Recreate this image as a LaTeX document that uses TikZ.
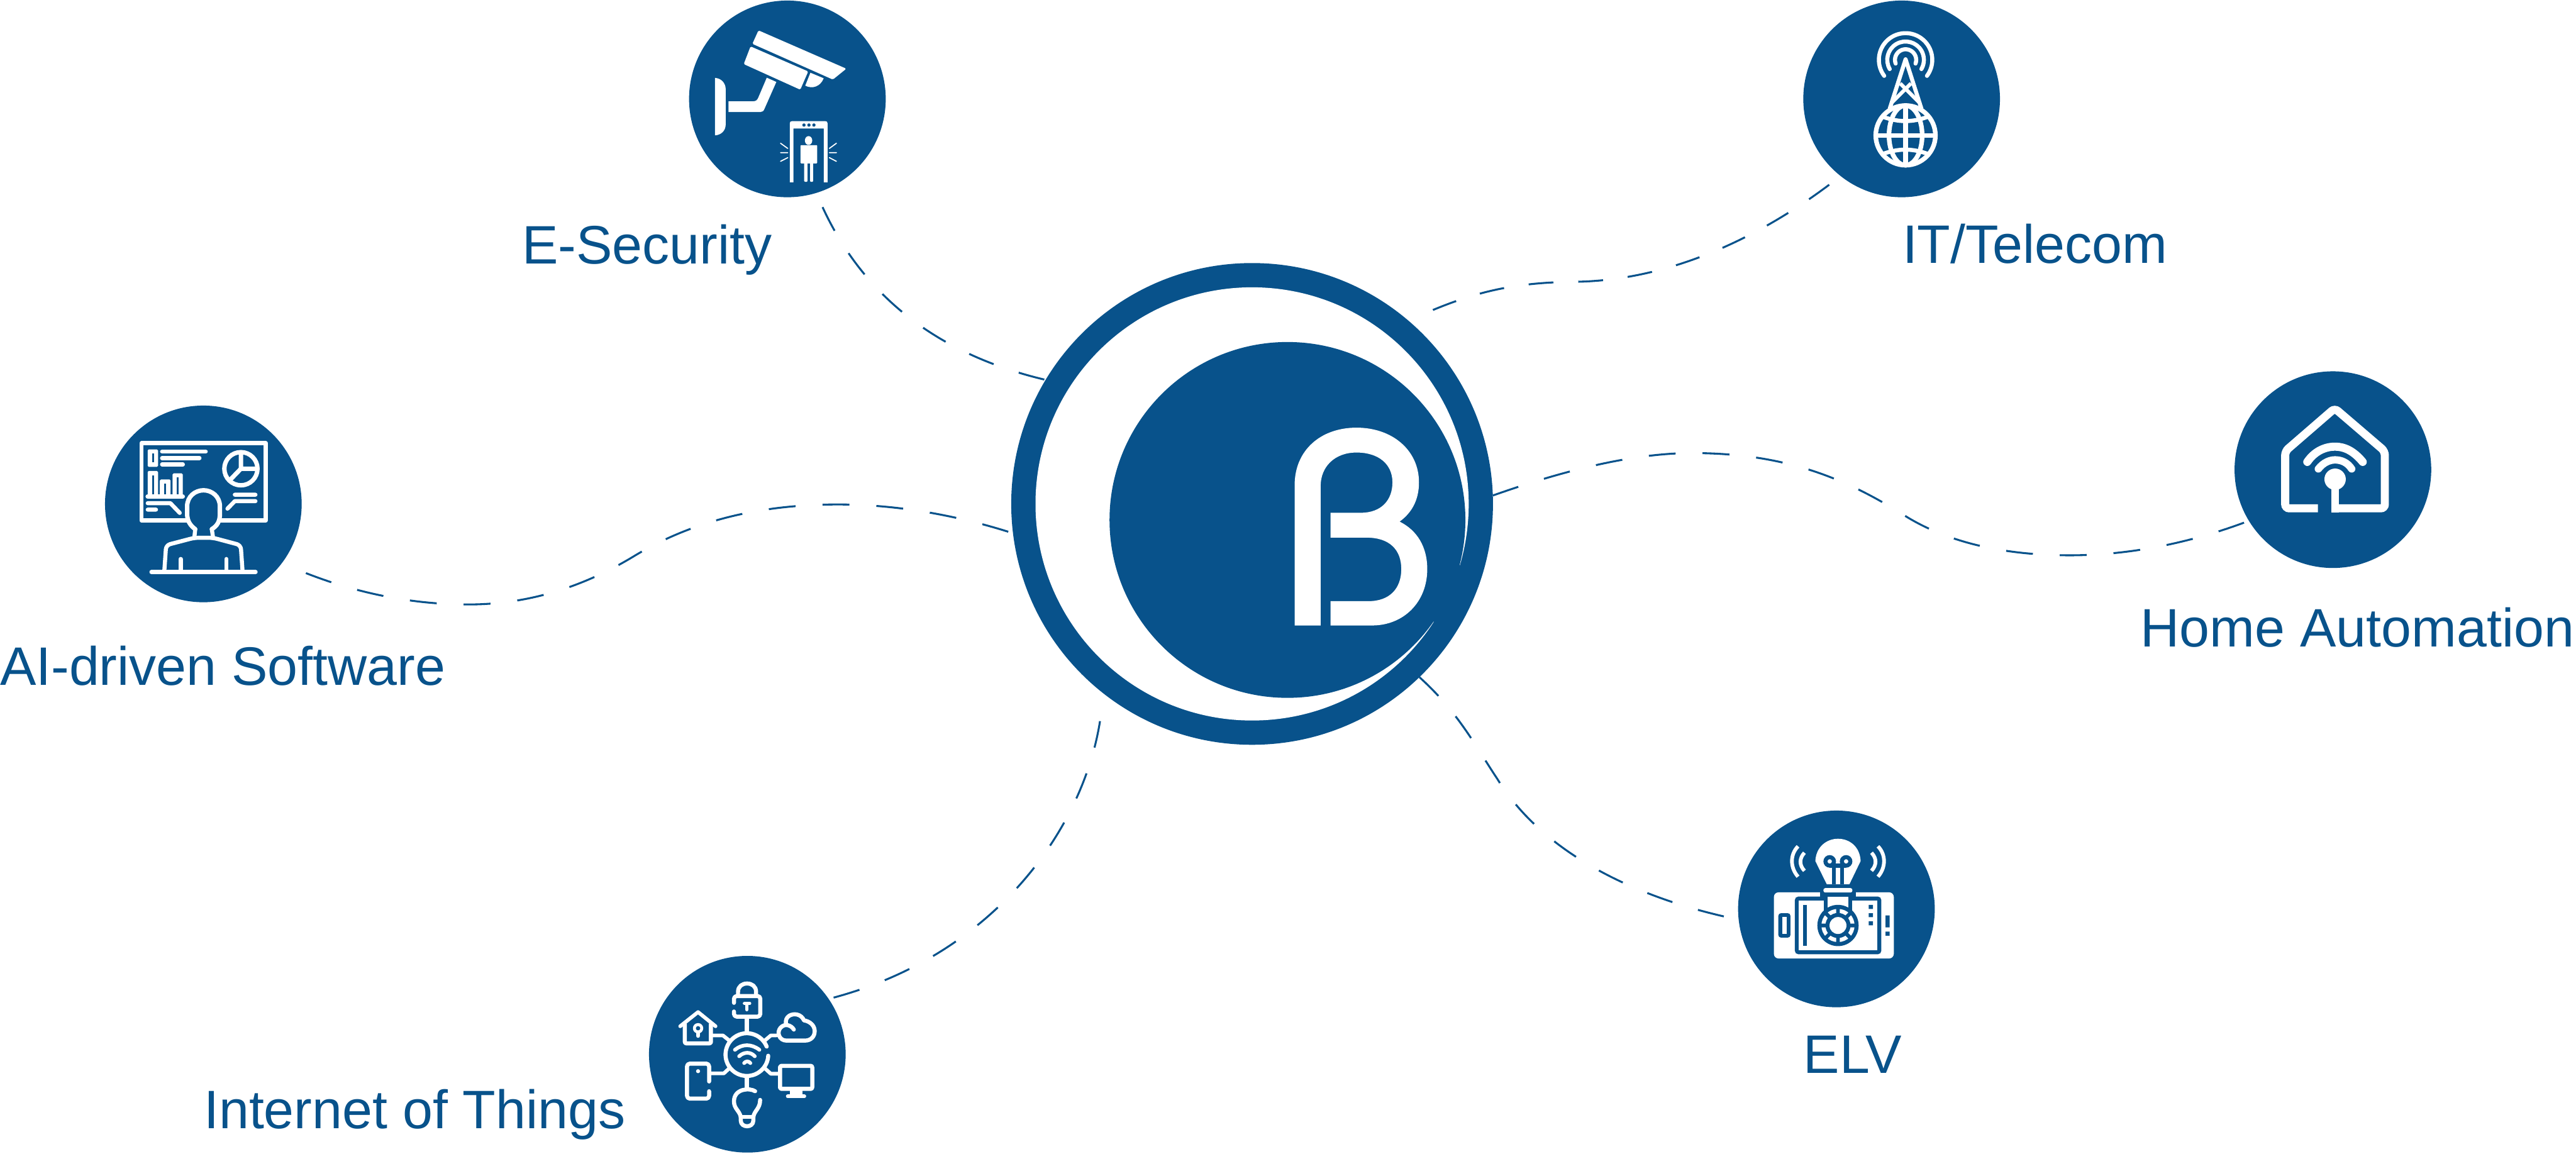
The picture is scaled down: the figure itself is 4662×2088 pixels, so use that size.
\documentclass[tikz,border=0pt]{standalone}
\usepackage{fontspec}
\setmainfont{Liberation Sans}
\definecolor{bl}{RGB}{8,82,139}
\tikzset{
  sat/.style={circle,fill=bl,inner sep=0pt,outer sep={#1*0.56906pt},minimum size={356*0.56906pt}},
  hubdisc/.style={circle,fill=bl,inner sep=0pt,outer sep=0pt,minimum size={872*0.56906pt}},
  halo/.style={circle,inner sep=0pt,outer sep=0pt,minimum size={960*0.56906pt}},
  lab/.style={anchor=base west,inner sep=0pt,outer sep=0pt,text=bl,font=\fontsize{55.8pt}{60pt}\selectfont},
  conn/.style={draw=bl,line width=2pt,dash pattern=on #1pt off #1pt},
  zm/.style={shift={#1},x=0.0066667cm,y=-0.0066667cm},
  rc/.style={rounded corners={#1*0.18969pt}},
  w/.style={line width=#1*0.18969pt,draw=white,line cap=round,line join=round},
  wb/.style={line width=#1*0.18969pt,draw=white,line cap=butt,line join=miter},
  b/.style={line width=#1*0.18969pt,draw=bl,line cap=butt},
}
\begin{document}
\begin{tikzpicture}[x=0.02cm,y=-0.02cm]
\useasboundingbox (0,0) rectangle (4662,2088);
% nodes
\node[hubdisc] (hub) at (2266,912) {};
\node[halo] (halo) at (2266,912) {};
\fill[white] (hub.center) circle (392);
\fill[bl] (2330,941) circle (322);
\fill[bl] (2642,1023) -- (2662,1030) -- (2612,1140) -- (2595,1127) -- (2570,1030) -- cycle;
\fill[white] (2343,1132) -- (2343,878) .. controls (2343,815) and (2390,774) .. (2455,774) .. controls (2520,774) and (2568,815) .. (2568,873) .. controls (2568,905) and (2555,928) .. (2533,944) .. controls (2565,960) and (2583,990) .. (2583,1030) .. controls (2583,1090) and (2540,1132) .. (2483,1132) -- (2408,1132) -- (2408,1088) -- (2477,1088) .. controls (2515,1088) and (2536,1065) .. (2536,1030) .. controls (2536,995) and (2515,973) .. (2473,973) -- (2408,973) -- (2408,928) -- (2463,928) .. controls (2500,928) and (2520,905) .. (2520,873) .. controls (2520,840) and (2495,819) .. (2455,819) .. controls (2415,819) and (2390,845) .. (2390,880) -- (2390,1132) -- cycle;

\node[sat=28] (sec) at (1425,179) {};
\node[sat=23] (it) at (3441.5,179) {};
\node[sat=6] (home) at (4222,850) {};
\node[sat=24] (elv) at (3323.5,1645) {};
\node[sat=2] (iot) at (1352.5,1908) {};
\node[sat=46] (ai) at (368,912) {};

% labels
\node[lab] (lsec) at (945,478) {E-Security};
\node[lab] (lit) at (3443,476) {IT/Telecom};
\node[lab] (lhome) at (3874,1171) {Home Automation};
\node[lab] (lelv) at (3264,1942) {ELV};
\node[lab] (liot) at (369,2042) {Internet of Things};
\node[lab] (lai) at (0,1240) {AI-driven Software};

% connectors
\draw[conn=27.3] (sec.-72) .. controls (1560,530) and (1690,640) .. (hub.149);
\draw[conn=25.6] (halo.47) .. controls (2680,525) and (2750,511) .. (2850,510) .. controls (3010,508) and (3170,440) .. (it.230);
\draw[conn=27.7] (hub.2) .. controls (2820,855) and (2950,820) .. (3062,820) .. controls (3230,820) and (3340,865) .. (3450,935) .. controls (3540,990) and (3650,1005) .. (3746,1005) .. controls (3860,1005) and (3970,980) .. (home.211);
\draw[conn=27.5] (hub.-46) .. controls (2640,1290) and (2670,1350) .. (2710,1410) .. controls (2790,1540) and (2950,1620) .. (elv.184);
\draw[conn=27.85] (halo.235) .. controls (1960,1500) and (1800,1730) .. (iot.34);
\draw[conn=27.75] (ai.-34) .. controls (650,1075) and (750,1094) .. (847,1094) .. controls (960,1094) and (1060,1060) .. (1150,1005) .. controls (1250,945) and (1370,913) .. (1516,913) .. controls (1630,913) and (1740,935) .. (hub.187);

% E-Security icon
\begin{scope}[zm={(1220,0)}]
\fill[white,rc=6] (458,165) -- (935,373) -- (862,432) -- (425,238) -- cycle;
\fill[white,rc=6] (415,252) -- (728,388) -- (685,487) -- (378,348) -- cycle;
\fill[white] (740,395) -- (812,425) .. controls (795,470) and (750,485) .. (712,465) -- cycle;
\fill[white] (503,422) -- (555,445) -- (490,592) .. controls (485,603) and (480,608) .. (470,608) -- (295,608) -- (295,550) -- (430,550) .. controls (445,550) and (452,542) .. (457,530) -- cycle;
\fill[white] (222,423) .. controls (255,425) and (280,450) .. (280,485) -- (280,675) .. controls (280,710) and (255,733) .. (222,735) -- cycle;
\fill[white] (628,990) -- (628,670) .. controls (628,662) and (632,658) .. (640,658) -- (821,658) .. controls (829,658) and (833,662) .. (833,670) -- (833,990) -- (813,990) -- (813,698) -- (648,698) -- (648,990) -- cycle;
\fill[bl] (705,679) circle (9) (732,679) circle (9) (759,679) circle (9);
\fill[white] (730,763) ellipse (20 and 24);
\fill[white,rc=4] (686,788) rectangle (777,887);
\fill[white,rc=4] (706,880) rectangle (724,987);
\fill[white,rc=4] (738,880) rectangle (755,987);
\draw[w=6] (578,778) -- (617,806) (578,829) -- (617,829) (578,876) -- (617,856);
\draw[w=6] (881,778) -- (843,806) (881,829) -- (843,829) (881,876) -- (843,856);
\end{scope}

% IT icon
\begin{scope}[zm={(3240,0)}]
\draw[w=22] (510,412) arc (143.1:396.9:145);
\draw[w=22] (540,375) arc (149.8:390.2:99.5);
\draw[w=22] (572,345) arc (159.7:380.3:57.6);
\draw[w=22] (540,590) -- (626,322) -- (712,590);
\draw[wb=20] (597,453) -- (700,556) (655,453) -- (552,556);
\draw[wb=25] (626,735) circle (162);
\draw[wb=25] (626,735) ellipse (90 and 162);
\draw[wb=25] (626,585) -- (626,885) (475,735) -- (777,735);
\draw[wb=22] (505,635) .. controls (590,665) and (660,665) .. (745,635);
\draw[wb=22] (505,835) .. controls (590,805) and (660,805) .. (745,835);
\end{scope}

% Home icon
\begin{scope}[zm={(4030,660)}]
\draw[wb=44,rc=22] (495,780) -- (317,780) -- (317,470) -- (586,237) -- (858,470) -- (858,780) -- (588,780);
\draw[wb=44] (588,802) -- (588,660);
\fill[white] (588,622) circle (58);
\draw[w=44] (437,528) .. controls (480,465) and (540,445) .. (588,445) .. controls (640,445) and (690,470) .. (738,528);
\draw[w=40] (497,566) .. controls (525,530) and (560,517) .. (588,517) .. controls (620,517) and (655,530) .. (678,566);
\end{scope}

% ELV icon
\begin{scope}[zm={(3130,1460)}]
\fill[white,rc=25] (241,465) rectangle (892,824);
\fill[bl,rc=18] (355,488) rectangle (824,801);
\fill[white] (376,510) rectangle (802,778);
\fill[bl,rc=15] (265,578) rectangle (331,711);
\fill[white] (286,599) rectangle (309,690);
\fill[bl] (847,590) rectangle (869,655) (847,678) rectangle (869,700);
\fill[bl] (399,533) rectangle (421,757);
\fill[bl] (756,533) rectangle (779,555) (756,578) rectangle (779,600) (756,622) rectangle (779,644);
\fill[bl] (492,455) rectangle (687,488);
\fill[bl] (511,488) rectangle (667,570);
\fill[white] (533,488) rectangle (645,560);
\fill[bl] (589,645) circle (112);
\fill[white] (589,645) circle (90);
\draw[b=20] (589,545) -- (589,745) (489,645) -- (689,645) (518,574) -- (660,716) (518,716) -- (660,574);
\fill[bl] (589,645) circle (68);
\fill[white] (589,645) circle (46);
\fill[white,rc=10] (510,442) rectangle (667,466);
\fill[white] (528,421) -- (466,295) .. controls (470,215) and (530,174) .. (589,174) .. controls (650,174) and (708,215) .. (712,295) -- (651,421) -- cycle;
\draw[b=22] (544,297) circle (23) (633,297) circle (23);
\draw[b=22] (566,297) -- (566,421) (611,297) -- (611,421) (544,320) -- (633,320);
\draw[wb=20] (372,215) .. controls (328,260) and (328,330) .. (372,380);
\draw[wb=20] (407,250) .. controls (378,280) and (378,318) .. (407,348);
\draw[wb=20] (806,215) .. controls (850,260) and (850,330) .. (806,380);
\draw[wb=20] (771,250) .. controls (800,280) and (800,318) .. (771,348);
\end{scope}

% IoT icon
\begin{scope}[zm={(1160,1720)}]
\draw[w=22] (691,572) arc (3:338:116);
\draw[w=20] (510,540) .. controls (550,507) and (600,507) .. (643,540);
\draw[w=20] (533,575) .. controls (560,550) and (595,550) .. (618,575);
\draw[w=20] (560,612) .. controls (570,600) and (585,600) .. (594,612);
\draw[w=22,rc=15] (505,285) -- (505,248) -- (648,248) -- (648,360) -- (505,360) -- (505,332);
\draw[w=22] (527,240) -- (527,225) .. controls (527,195) and (550,180) .. (576,180) .. controls (602,180) and (625,195) .. (625,225) -- (625,240);
\draw[w=18] (575,322) -- (575,290) (562,288) -- (590,288);
\draw[w=22] (575,365) -- (575,445) (575,690) -- (575,745);
\draw[w=20] (213,412) -- (310,335) -- (405,412);
\draw[w=22,rc=8] (238,400) -- (238,505) -- (380,505) -- (380,400);
\draw[w=16] (310,423) circle (20);
\draw[w=20] (310,445) -- (310,465);
\draw[w=20] (390,462) -- (445,462) -- (480,490);
\draw[w=20] (735,462) -- (705,462) -- (672,490);
\draw[w=20] (380,668) -- (450,668) -- (480,640);
\draw[w=20] (750,670) -- (705,670) -- (672,640);
\draw[w=22] (830,430) .. controls (815,405) and (780,395) .. (758,420) .. controls (735,445) and (750,490) .. (790,490) -- (890,490) .. controls (925,490) and (945,465) .. (943,435) .. controls (941,405) and (915,385) .. (885,380) .. controls (870,345) and (830,340) .. (805,355) .. controls (790,365) and (785,380) .. (787,395);
\draw[w=22,rc=15] (370,712) -- (370,615) -- (250,615) -- (250,805) -- (370,805) -- (370,765);
\fill[white] (310,656) circle (11);
\draw[w=22,rc=8] (755,627) rectangle (930,752);
\fill[white] (810,752) rectangle (878,790);
\draw[w=20] (797,793) -- (887,793);
\draw[w=22] (620,765) .. controls (590,745) and (505,750) .. (505,820) .. controls (505,860) and (535,870) .. (542,905);
\draw[w=22] (647,812) .. controls (647,860) and (615,870) .. (610,905);
\draw[w=20] (542,905) -- (610,905);
\draw[w=22] (542,905) -- (542,925) .. controls (542,965) and (610,965) .. (610,925) -- (610,905);
\end{scope}

% AI icon
\begin{scope}[zm={(180,730)}]
\draw[w=22] (228,216) rectangle (903,636);
\fill[white,rc=6] (262,250) rectangle (318,345);
\fill[bl] (285,273) rectangle (295,320);
\draw[w=22] (340,262) -- (577,262) (340,297) -- (543,297) (340,332) -- (453,332);
\fill[white,rc=6] (262,367) rectangle (318,500);
\fill[bl] (285,390) rectangle (295,495);
\fill[white,rc=6] (328,413) rectangle (386,500);
\fill[bl] (351,437) rectangle (363,495);
\fill[white,rc=6] (397,380) rectangle (452,500);
\fill[bl] (419,403) rectangle (429,495);
\draw[w=24] (262,506) -- (452,506);
\draw[w=22] (262,542) -- (385,542) -- (436,595) (262,577) -- (307,577);
\draw[w=24] (768,355) circle (90);
\draw[w=24] (768,275) -- (768,355) -- (710,415) (768,355) -- (850,355);
\draw[w=22] (735,496) -- (847,496) (695,572) -- (735,531) -- (847,531);
\fill[bl] (476,600) -- (476,560) .. controls (476,505) and (520,472) .. (565,472) .. controls (610,472) and (654,505) .. (654,560) -- (654,600) .. controls (654,640) and (640,665) .. (610,683) -- (617,730) -- (515,730) -- (520,683) .. controls (495,665) and (476,640) .. (476,600) -- cycle;
\draw[w=24] (520,683) .. controls (495,665) and (476,640) .. (476,600) -- (476,560) .. controls (476,505) and (520,472) .. (565,472) .. controls (610,472) and (654,505) .. (654,560) -- (654,600) .. controls (654,640) and (640,665) .. (610,683);
\draw[w=22,rc=22] (352,912) -- (362,770) -- (515,730) -- (617,730) -- (767,770) -- (777,912);
\draw[w=22] (520,683) -- (515,730) (610,683) -- (617,730);
\draw[w=24] (283,916) -- (847,916);
\draw[w=22] (441,845) -- (441,916) (689,845) -- (689,916);
\end{scope}
\end{tikzpicture}
\end{document}
